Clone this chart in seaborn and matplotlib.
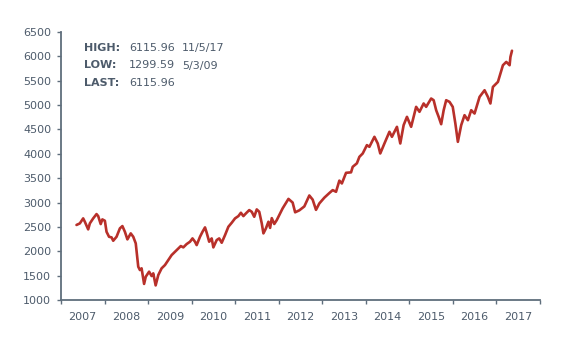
import matplotlib
matplotlib.use("Agg")
import matplotlib.pyplot as plt
import seaborn as sns
import pandas as pd

# index level (approx. every 2-4 weeks)
dates = [
    "2007-05-11", "2007-06-08", "2007-07-06", "2007-07-20", "2007-08-17", "2007-08-31",
    "2007-09-28", "2007-10-26", "2007-11-09", "2007-11-30", "2007-12-14",
    "2008-01-04", "2008-01-18", "2008-02-08", "2008-02-29", "2008-03-14", "2008-04-11",
    "2008-05-09", "2008-05-30", "2008-06-20", "2008-07-11", "2008-08-08", "2008-08-29",
    "2008-09-19", "2008-10-10", "2008-10-24", "2008-11-07", "2008-11-28", "2008-12-12",
    "2009-01-09", "2009-01-30", "2009-02-13", "2009-03-05", "2009-03-27", "2009-04-24",
    "2009-05-22", "2009-06-19", "2009-07-17", "2009-08-14", "2009-09-11", "2009-10-02",
    "2009-10-23", "2009-11-20", "2009-12-18",
    "2010-01-08", "2010-01-29", "2010-02-12", "2010-03-12", "2010-04-02", "2010-04-23",
    "2010-05-07", "2010-05-28", "2010-06-18", "2010-07-02", "2010-07-30", "2010-08-20",
    "2010-09-10", "2010-10-08", "2010-11-05", "2010-12-03", "2010-12-31",
    "2011-01-28", "2011-02-18", "2011-03-11", "2011-04-01", "2011-04-29", "2011-05-20",
    "2011-06-10", "2011-07-01", "2011-07-22", "2011-08-12", "2011-08-26", "2011-09-16",
    "2011-10-07", "2011-10-21", "2011-11-04", "2011-11-25", "2011-12-16",
    "2012-02-03", "2012-03-23", "2012-04-27", "2012-05-18", "2012-06-22", "2012-08-03",
    "2012-09-14", "2012-10-12", "2012-11-09", "2012-12-07",
    "2013-01-18", "2013-03-01", "2013-03-29", "2013-04-26", "2013-05-24", "2013-06-14",
    "2013-07-19", "2013-08-30", "2013-09-13", "2013-10-18", "2013-11-08", "2013-12-06",
    "2014-01-10", "2014-01-31", "2014-03-14", "2014-04-11", "2014-05-02", "2014-06-06",
    "2014-07-18", "2014-08-08", "2014-09-19", "2014-10-17", "2014-11-14", "2014-12-12",
    "2015-01-16", "2015-02-27", "2015-03-27", "2015-05-01", "2015-05-22", "2015-07-03",
    "2015-07-24", "2015-08-14", "2015-09-04", "2015-09-25", "2015-10-16", "2015-11-06",
    "2015-12-04", "2015-12-31",
    "2016-01-22", "2016-02-12", "2016-03-11", "2016-04-08", "2016-05-06", "2016-06-03",
    "2016-07-01", "2016-08-12", "2016-09-23", "2016-10-21", "2016-11-11", "2016-12-02",
    "2017-01-13", "2017-02-24", "2017-03-24", "2017-04-21", "2017-04-28", "2017-05-11",
]
values = [
    2540, 2572, 2675, 2606, 2449, 2572,
    2675, 2763, 2722, 2558, 2654,
    2626, 2400, 2298, 2285, 2216, 2298,
    2470, 2517, 2400, 2244, 2367, 2298,
    2162, 1683, 1615, 1650, 1330, 1478,
    1581, 1492, 1547, 1299.59, 1512, 1650,
    1717, 1820, 1922, 1990, 2060, 2107,
    2080, 2148, 2196,
    2264, 2196, 2127, 2298, 2400, 2490,
    2381, 2196, 2264, 2080, 2230, 2264,
    2175, 2332, 2503, 2585, 2675,
    2722, 2790, 2722, 2777, 2845, 2810,
    2708, 2859, 2810, 2572, 2367, 2470,
    2606, 2480, 2680, 2560, 2640,
    2880, 3075, 3000, 2800, 2840, 2920,
    3145, 3060, 2850, 2982,
    3100, 3195, 3255, 3221, 3450, 3392,
    3610, 3620, 3733, 3805, 3938, 4007,
    4178, 4144, 4349, 4212, 4007, 4212,
    4452, 4349, 4554, 4212, 4588, 4759,
    4554, 4964, 4862, 5033, 4964, 5135,
    5100, 4895, 4759, 4608, 4895, 5100,
    5066, 4964,
    4622, 4246, 4588, 4793, 4690, 4895,
    4827, 5168, 5305, 5168, 5033, 5373,
    5476, 5818, 5886, 5818, 5988, 6115.96,
]
year_labels = [str(y) for y in range(2007, 2018)]
stats_labels = ["HIGH:", "LOW:", "LAST:"]
stats_values = ["6115.96", "1299.59", "6115.96"]
stats_dates = ["11/5/17", "5/3/09", ""]

df = pd.DataFrame({"date": pd.to_datetime(dates), "value": values})

sns.set_style("ticks")
plt.rcParams["font.family"] = ["DejaVu Sans"]

text_col = "#4d5b6b"
axis_col = "#5f6e7c"
line_col = "#b8302a"
fs = 8

fig = plt.figure(figsize=(5.65, 3.51), dpi=100)
ax = fig.add_axes([61 / 565, 51 / 351, 479 / 565, 268 / 351])

sns.lineplot(data=df, x="date", y="value", ax=ax, color=line_col, linewidth=1.9)

ax.set_xlim(pd.Timestamp("2007-01-01"), pd.Timestamp("2018-01-01"))
ax.set_ylim(1000, 6500)
ax.set_yticks(range(1000, 6501, 500))

# year boundaries get the tick marks, labels sit mid-year
ax.set_xticks([pd.Timestamp(f"{y}-01-01") for y in range(2007, 2019)])
ax.set_xticklabels([])
ax.set_xticks([pd.Timestamp(f"{y}-07-02") for y in range(2007, 2018)], minor=True)
ax.set_xticklabels(year_labels, minor=True)
ax.tick_params(axis="x", which="major", bottom=True, length=3, width=1,
               color=axis_col, direction="out")
ax.tick_params(axis="x", which="minor", length=0, pad=9, labelsize=fs, labelcolor=text_col)
ax.tick_params(axis="y", left=True, length=3, width=1, color=axis_col, direction="out",
               pad=4, labelsize=fs, labelcolor=text_col)

ax.set_xlabel("")
ax.set_ylabel("")
ax.grid(False)
sns.despine(ax=ax)
for side in ["left", "bottom"]:
    ax.spines[side].set_color(axis_col)
    ax.spines[side].set_linewidth(1.3)

# summary box in the top-left corner
for i, (lab, val, dt) in enumerate(zip(stats_labels, stats_values, stats_dates)):
    y = 0.940 - i * 0.065
    ax.text(0.048, y, lab, transform=ax.transAxes, fontsize=fs, color=text_col,
            fontweight="bold", va="center")
    ax.text(0.238, y, val, transform=ax.transAxes, fontsize=fs, color=text_col,
            va="center", ha="right")
    if dt:
        ax.text(0.253, y, dt, transform=ax.transAxes, fontsize=fs, color=text_col,
                va="center")

fig.savefig("out.png", dpi=100)
